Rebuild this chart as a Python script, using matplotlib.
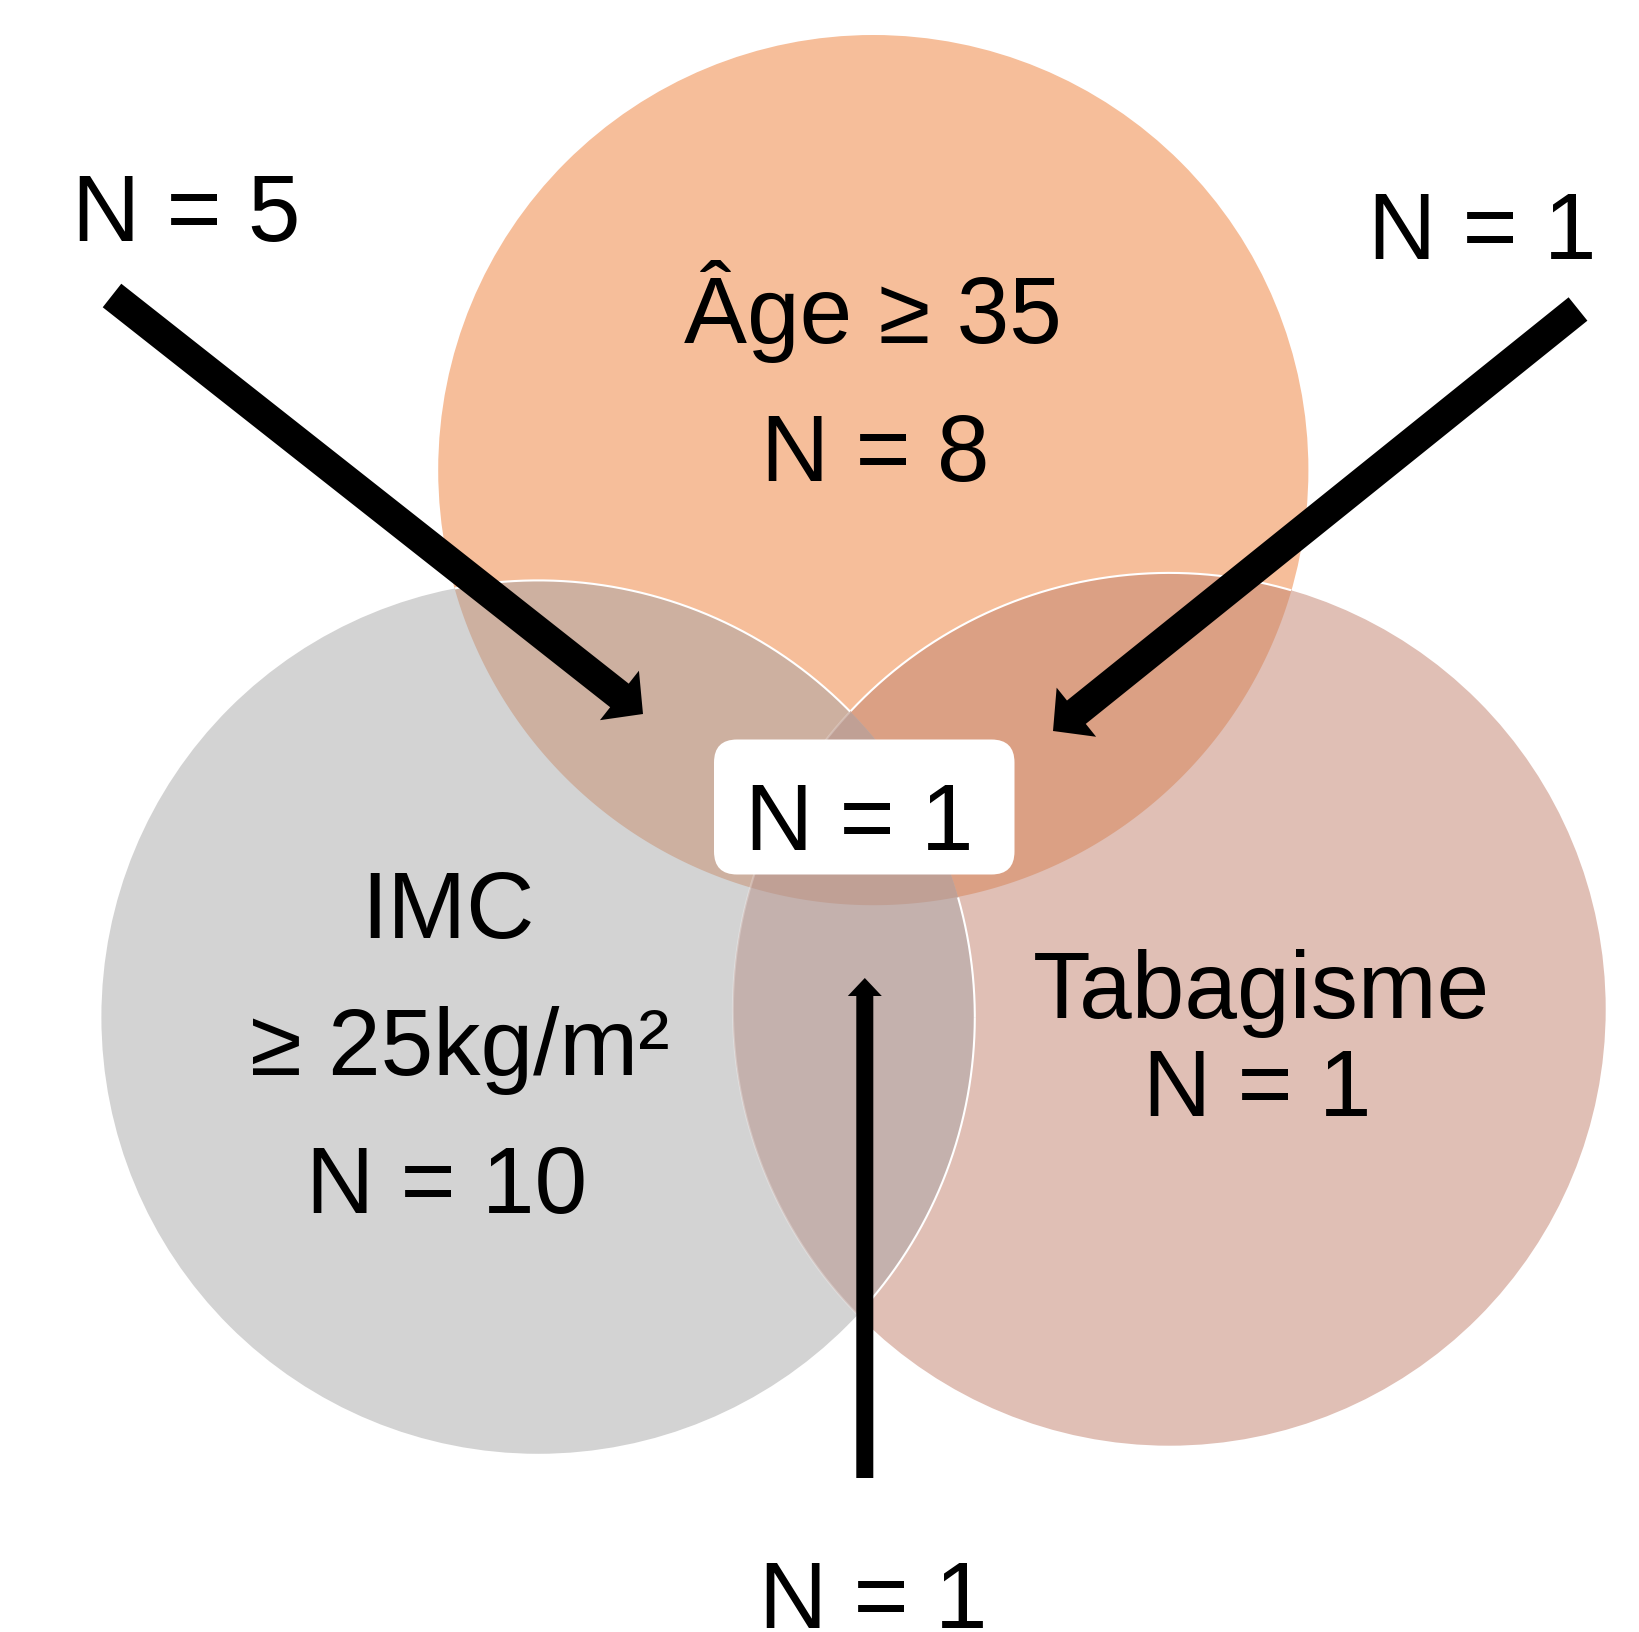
import numpy as np
import matplotlib
matplotlib.use('Agg')
import matplotlib.pyplot as plt
from matplotlib.patches import Circle, PathPatch, FancyArrow, FancyBboxPatch
from matplotlib.path import Path

# ---------------- data ----------------
set_names = ['Âge ≥ 35', 'IMC', '≥ 25kg/m²', 'Tabagisme']
only_age = 8
only_imc = 10
only_tabac = 1
age_imc = 5
age_tabac = 1
imc_tabac = 1
all_three = 1

# ---------------- layout (pixel units) ----------------
W, H = 1640, 1632
C_AGE = (873.3, 470.1, 435.1)
C_IMC = (538.1, 1017.1, 436.7)
C_TAB = (1169.3, 1009.3, 436.4)

COL_AGE = '#F6BE9A'
COL_IMC = '#D3D3D3'
COL_TAB = '#E0BFB5'
COL_AGE_IMC = '#CDB0A0'
COL_AGE_TAB = '#DBA084'
COL_IMC_TAB = '#C4B1AD'
COL_ALL = '#C0A095'

FONT = ['Liberation Sans', 'DejaVu Sans']
FS = 68

fig = plt.figure(figsize=(W / 100, H / 100), dpi=100)
ax = fig.add_axes([0, 0, 1, 1])
ax.set_xlim(0, W)
ax.set_ylim(H, 0)
ax.set_aspect('equal')
ax.axis('off')


def lens_path(c1, c2, n=300):
    x1, y1, r1 = c1
    x2, y2, r2 = c2
    d = np.hypot(x2 - x1, y2 - y1)
    t12 = np.arctan2(y2 - y1, x2 - x1)
    t21 = np.arctan2(y1 - y2, x1 - x2)
    a1 = np.arccos((d ** 2 + r1 ** 2 - r2 ** 2) / (2 * d * r1))
    a2 = np.arccos((d ** 2 + r2 ** 2 - r1 ** 2) / (2 * d * r2))
    th1 = np.linspace(t12 - a1, t12 + a1, n)
    th2 = np.linspace(t21 - a2, t21 + a2, n)
    pts = np.vstack([
        np.column_stack([x1 + r1 * np.cos(th1), y1 + r1 * np.sin(th1)]),
        np.column_stack([x2 + r2 * np.cos(th2), y2 + r2 * np.sin(th2)]),
    ])
    pts = np.vstack([pts, pts[:1]])
    codes = [Path.MOVETO] + [Path.LINETO] * (len(pts) - 2) + [Path.CLOSEPOLY]
    return Path(pts, codes)


# single circles
for c, col in [(C_AGE, COL_AGE), (C_IMC, COL_IMC), (C_TAB, COL_TAB)]:
    ax.add_patch(Circle(c[:2], c[2], facecolor=col, edgecolor='none', zorder=1))

# pairwise lenses
for a, b, col in [(C_AGE, C_IMC, COL_AGE_IMC), (C_AGE, C_TAB, COL_AGE_TAB),
                  (C_IMC, C_TAB, COL_IMC_TAB)]:
    ax.add_patch(PathPatch(lens_path(a, b), facecolor=col, edgecolor='none', zorder=2))

# triple region
tri = PathPatch(lens_path(C_AGE, C_IMC), facecolor=COL_ALL, edgecolor='none', zorder=3)
ax.add_patch(tri)
clipc = Circle(C_TAB[:2], C_TAB[2], transform=ax.transData)
tri.set_clip_path(clipc)


def inside(x, y, c):
    return np.hypot(x - c[0], y - c[1]) < c[2]


def draw_runs(c, mask, **kw):
    th = np.linspace(0, 2 * np.pi, 3601)
    x = c[0] + c[2] * np.cos(th)
    y = c[1] + c[2] * np.sin(th)
    m = mask(x, y)
    idx = np.where(m)[0]
    if len(idx) == 0:
        return
    runs = np.split(idx, np.where(np.diff(idx) != 1)[0] + 1)
    for r in runs:
        ax.plot(x[r], y[r], solid_capstyle='butt', zorder=4, **kw)


# white outlines
draw_runs(C_IMC, lambda x, y: inside(x, y, C_AGE) ^ inside(x, y, C_TAB),
          color='white', lw=1.5)
draw_runs(C_TAB, lambda x, y: inside(x, y, C_AGE) & ~inside(x, y, C_IMC),
          color='white', lw=1.5)
draw_runs(C_TAB, lambda x, y: inside(x, y, C_IMC),
          color='white', lw=1.5, alpha=0.25)

# arrows
arrows = [((112, 295.5), (643, 714), 30, 63, 30),
          ((1578, 309), (1053, 731), 30, 63, 30),
          ((864.8, 1478), (864.8, 978), 17, 34, 18)]
for (x0, y0), (x1, y1), w, hw, hl in arrows:
    ax.add_patch(FancyArrow(x0, y0, x1 - x0, y1 - y0, width=w, head_width=hw,
                            head_length=hl, length_includes_head=True,
                            facecolor='black', edgecolor='none', zorder=5))

# central box
ax.add_patch(FancyBboxPatch((714, 739.5), 300.5, 135,
                            boxstyle='round,pad=0,rounding_size=23',
                            facecolor='white', edgecolor='none', zorder=6))


def txt(x, y, s):
    ax.text(x, y, s, ha='center', va='baseline', fontsize=FS, family=FONT,
            color='black', zorder=7)


txt(872.8, 343, set_names[0])
txt(875.4, 481, f'N = {only_age}')
txt(447.6, 938, set_names[1])
txt(459.7, 1075, set_names[2])
txt(447, 1213, f'N = {only_imc}')
txt(1262, 1017.7, set_names[3])
txt(1257, 1116, f'N = {only_tabac}')
txt(859, 850, f'N = {all_three}')
txt(186, 240.7, f'N = {age_imc}')
txt(1482.6, 259.4, f'N = {age_tabac}')
txt(872.8, 1627.5, f'N = {imc_tabac}')

fig.savefig('out.png', dpi=100, facecolor='white')
